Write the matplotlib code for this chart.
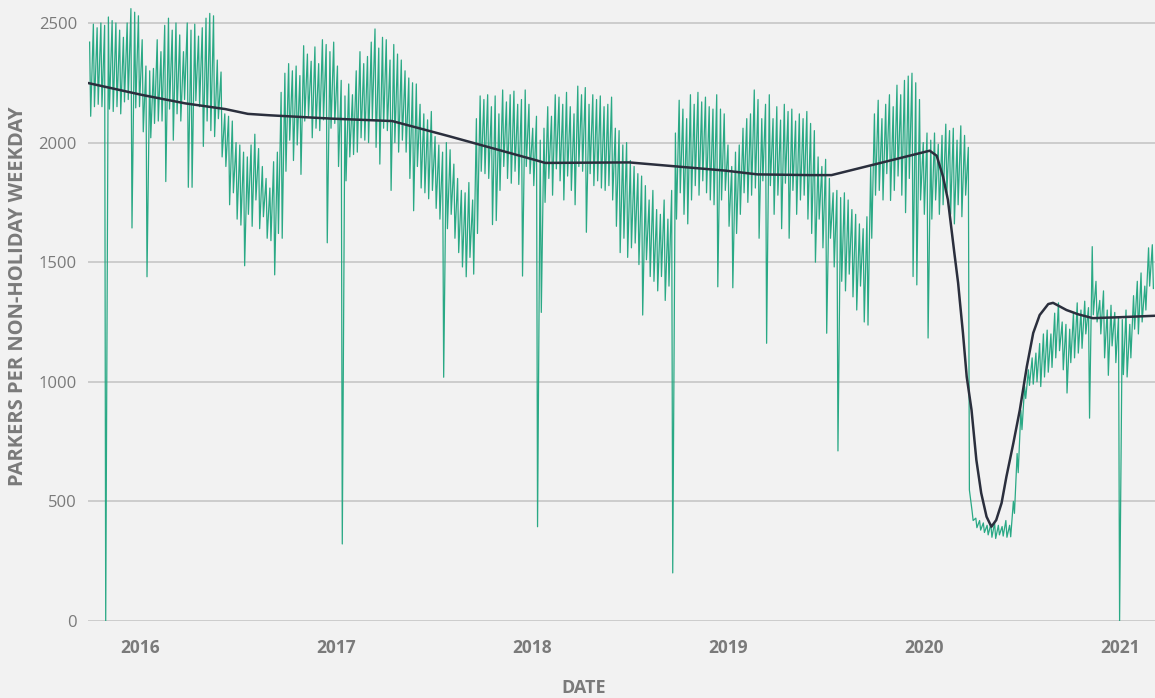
import matplotlib
matplotlib.use("Agg")
import matplotlib.pyplot as plt
import pandas as pd
import numpy as np

# weekly high / low of daily parkers, weeks start 2015-09-28
week_high = [
    2420, 2495, 2480, 2500, 2490, 2525, 2510, 2500, 2470, 2440,
    2500, 2560, 2545, 2530, 2430, 2320, 2300, 2310, 2430, 2380,
    2490, 2520, 2470, 2500, 2450, 2380, 2500, 2470, 2495, 2445,
    2480, 2520, 2540, 2530, 2345, 2295, 2120, 2110, 2090, 2000,
    1990, 1960, 1940, 1990, 2035, 1975, 1900, 1850, 1810, 1920,
    1960, 2210, 2290, 2330, 2300, 2320, 2280, 2405, 2370, 2340,
    2400, 2330, 2430, 2410, 2380, 2420, 2320, 2260, 2195, 2245,
    2200, 2300, 2380, 2330, 2360, 2420, 2475, 2395, 2440, 2430,
    2345, 2410, 2370, 2345, 2300, 2270, 2250, 2245, 2160, 2120,
    2095, 2130, 2025, 1990, 1960, 2000, 1970, 1910, 1850, 1800,
    1790, 1833, 1760, 2100, 2195, 2180, 2200, 2150, 2195, 2120,
    2220, 2170, 2200, 2215, 2160, 2180, 2220, 2160, 2060, 2110,
    2010, 2060, 2150, 2110, 2200, 2190, 2160, 2210, 2150, 2120,
    2236, 2200, 2230, 2160, 2200, 2180, 2195, 2150, 2160, 2190,
    2060, 2050, 1990, 2000, 1925, 1900, 1870, 1860, 1820, 1760,
    1800, 1720, 1700, 1760, 1680, 1800, 2040, 2177, 2140, 2100,
    2200, 2160, 2210, 2170, 2190, 2150, 2140, 2200, 2140, 2120,
    1990, 1900, 1960, 1990, 2060, 2100, 2120, 2220, 2180, 2100,
    2160, 2200, 2100, 2150, 2094, 2160, 2130, 2140, 2090, 2120,
    2100, 2130, 2080, 2050, 1940, 1900, 1930, 1850, 1790, 1800,
    1770, 1790, 1760, 1720, 1700, 1660, 1640, 1690, 1900, 2120,
    2177, 2100, 2160, 2200, 2150, 2240, 2200, 2260, 2278, 2290,
    2250, 2180, 2000, 2040, 2010, 2040, 1993, 2030, 2077, 2050,
    2060, 2010, 2070, 2030, 1980, 460, 430, 420, 410, 400,
    405, 410, 400, 395, 420, 400, 500, 700, 880, 980,
    1050, 1100, 1120, 1160, 1200, 1216, 1200, 1287, 1330, 1250,
    1240, 1220, 1290, 1330, 1300, 1337, 1310, 1565, 1420, 1340,
    1380, 1300, 1320, 1290, 1270, 1260, 1300, 1240, 1360, 1420,
    1455, 1400, 1560, 1573,
]
week_low = [
    2110, 2150, 2160, 2150, 0, 2140, 2130, 2150, 2120, 2170,
    2180, 1643, 2145, 2150, 2045, 1439, 2020, 2080, 2090, 2090,
    1837, 2140, 2010, 2120, 2090, 2180, 1813, 1813, 2175, 2150,
    1984, 2090, 2050, 2025, 2100, 1940, 1900, 1740, 1790, 1680,
    1655, 1485, 1700, 1650, 1760, 1640, 1690, 1600, 1590, 1447,
    1620, 1600, 1880, 2010, 1925, 1990, 1867, 2090, 2110, 2020,
    2060, 2050, 2095, 1581, 2060, 2080, 1900, 322, 1840, 1940,
    1950, 1960, 2020, 2010, 2000, 2095, 1980, 1910, 2060, 2050,
    1800, 2000, 1960, 2010, 1960, 1850, 1715, 1900, 1810, 1790,
    1765, 1800, 1725, 1680, 1019, 1640, 1700, 1600, 1540, 1480,
    1439, 1520, 1450, 1620, 1880, 1870, 1850, 1657, 1674, 1800,
    1900, 1850, 1830, 1880, 1825, 1442, 1900, 1870, 1820, 394,
    1290, 1750, 1850, 1780, 1890, 1840, 1760, 1860, 1800, 1740,
    1900, 1880, 1625, 1870, 1820, 1840, 1810, 1800, 1820, 1760,
    1650, 1540, 1600, 1520, 1560, 1580, 1490, 1279, 1510, 1440,
    1420, 1380, 1440, 1340, 1400, 201, 1680, 1790, 1700, 1660,
    1760, 1820, 1780, 1840, 1790, 1760, 1740, 1397, 1760, 1800,
    1650, 1393, 1620, 1700, 1790, 1750, 1780, 1810, 1600, 1840,
    1161, 1820, 1700, 1780, 1640, 1830, 1600, 1800, 1700, 1760,
    1780, 1680, 1620, 1500, 1680, 1560, 1203, 1600, 1480, 711,
    1420, 1380, 1450, 1355, 1300, 1400, 1250, 1237, 1600, 1780,
    1800, 1760, 1870, 1758, 1800, 1860, 1780, 1707, 1850, 1440,
    1405, 1760, 1700, 1183, 1680, 1760, 1700, 1740, 1790, 1700,
    1660, 1740, 1690, 1780, 548, 420, 390, 380, 370, 360,
    350, 345, 360, 355, 350, 352, 450, 620, 800, 930,
    985, 990, 1000, 980, 1020, 1040, 1060, 1100, 1130, 1050,
    953, 1080, 1100, 1120, 1140, 1200, 848, 1280, 1250, 1200,
    1100, 1027, 1150, 1080, 0, 1030, 1020, 1100, 1220, 1200,
    1250, 1300, 1400, 1390,
]

# smoothed trend
trend_dates = [
    "2015-09-28", "2016-01-05", "2016-03-25", "2016-06-08", "2016-07-20",
    "2016-08-30", "2016-12-24", "2017-04-15", "2017-07-31", "2018-01-10",
    "2018-01-25", "2018-07-01", "2018-12-26", "2019-02-25", "2019-06-02",
    "2019-07-13", "2020-01-12", "2020-01-25", "2020-02-06", "2020-02-15",
    "2020-02-27", "2020-03-05", "2020-03-08", "2020-03-14", "2020-03-21",
    "2020-03-30", "2020-04-08", "2020-04-17", "2020-04-27", "2020-05-06",
    "2020-05-15", "2020-05-25", "2020-06-03", "2020-06-16", "2020-06-28",
    "2020-07-11", "2020-07-23", "2020-08-04", "2020-08-20", "2020-08-29",
    "2020-09-23", "2020-10-15", "2020-11-11", "2021-01-01", "2021-03-07",
]
trend_values = [
    2248, 2199, 2164, 2140, 2120,
    2114, 2100, 2090, 2026, 1925,
    1915, 1917, 1883, 1867, 1864,
    1864, 1966, 1945, 1857, 1760,
    1538, 1413, 1342, 1204, 1021,
    882, 673, 535, 436, 394,
    422, 493, 603, 744, 882,
    1063, 1204, 1279, 1325, 1330,
    1300, 1282, 1266, 1270, 1276,
]

year_labels = ["2016", "2017", "2018", "2019", "2020", "2021"]
y_ticks = [0, 500, 1000, 1500, 2000, 2500]

weeks = pd.date_range("2015-09-28", periods=len(week_high), freq="7D")
days = np.empty(2 * len(weeks), dtype="datetime64[ns]")
days[0::2] = (weeks + pd.Timedelta(days=1)).values
days[1::2] = (weeks + pd.Timedelta(days=3)).values
vals = np.empty(2 * len(weeks))
vals[0::2] = week_high
vals[1::2] = week_low

plt.rcParams["font.family"] = ["Open Sans", "DejaVu Sans"]
bg = "#f2f2f2"
grey = "#7a7a7a"

fig = plt.figure(figsize=(11.55, 6.98), dpi=100, facecolor=bg)
ax = fig.add_axes([88 / 1155, 1 - 621 / 698, 1 - 88 / 1155, 621 / 698])
ax.set_facecolor(bg)

ax.plot(days, vals, color="#1fa57f", lw=0.9, alpha=0.95)
ax.plot(pd.to_datetime(trend_dates), trend_values, color="#2b2f3d", lw=1.8)

ax.set_ylim(0, 2596)
ax.set_xlim(pd.Timestamp("2015-09-26"), pd.Timestamp("2021-03-07"))
ax.set_yticks(y_ticks)
ax.set_yticklabels([str(v) for v in y_ticks], color=grey, fontsize=12)
ax.set_xticks(pd.to_datetime([y + "-01-01" for y in year_labels]))
ax.set_xticklabels(year_labels, color=grey, fontsize=12.5, fontweight="bold")
ax.tick_params(axis="both", length=0)
ax.tick_params(axis="x", pad=13)
ax.tick_params(axis="y", pad=8)
ax.yaxis.grid(True, color="#c6c6c6", lw=1.2)
ax.set_axisbelow(True)
for s in ax.spines.values():
    s.set_visible(False)

fig.text(0.505, 1 - 688 / 698, "DATE", ha="center", va="center",
         color=grey, fontsize=13, fontweight="bold")
fig.text(18 / 1155, 1 - 296 / 698, "PARKERS PER NON-HOLIDAY WEEKDAY", rotation=90,
         ha="center", va="center", color=grey, fontsize=14.5, fontweight="bold")

fig.savefig("out.png", dpi=100, facecolor=bg)
